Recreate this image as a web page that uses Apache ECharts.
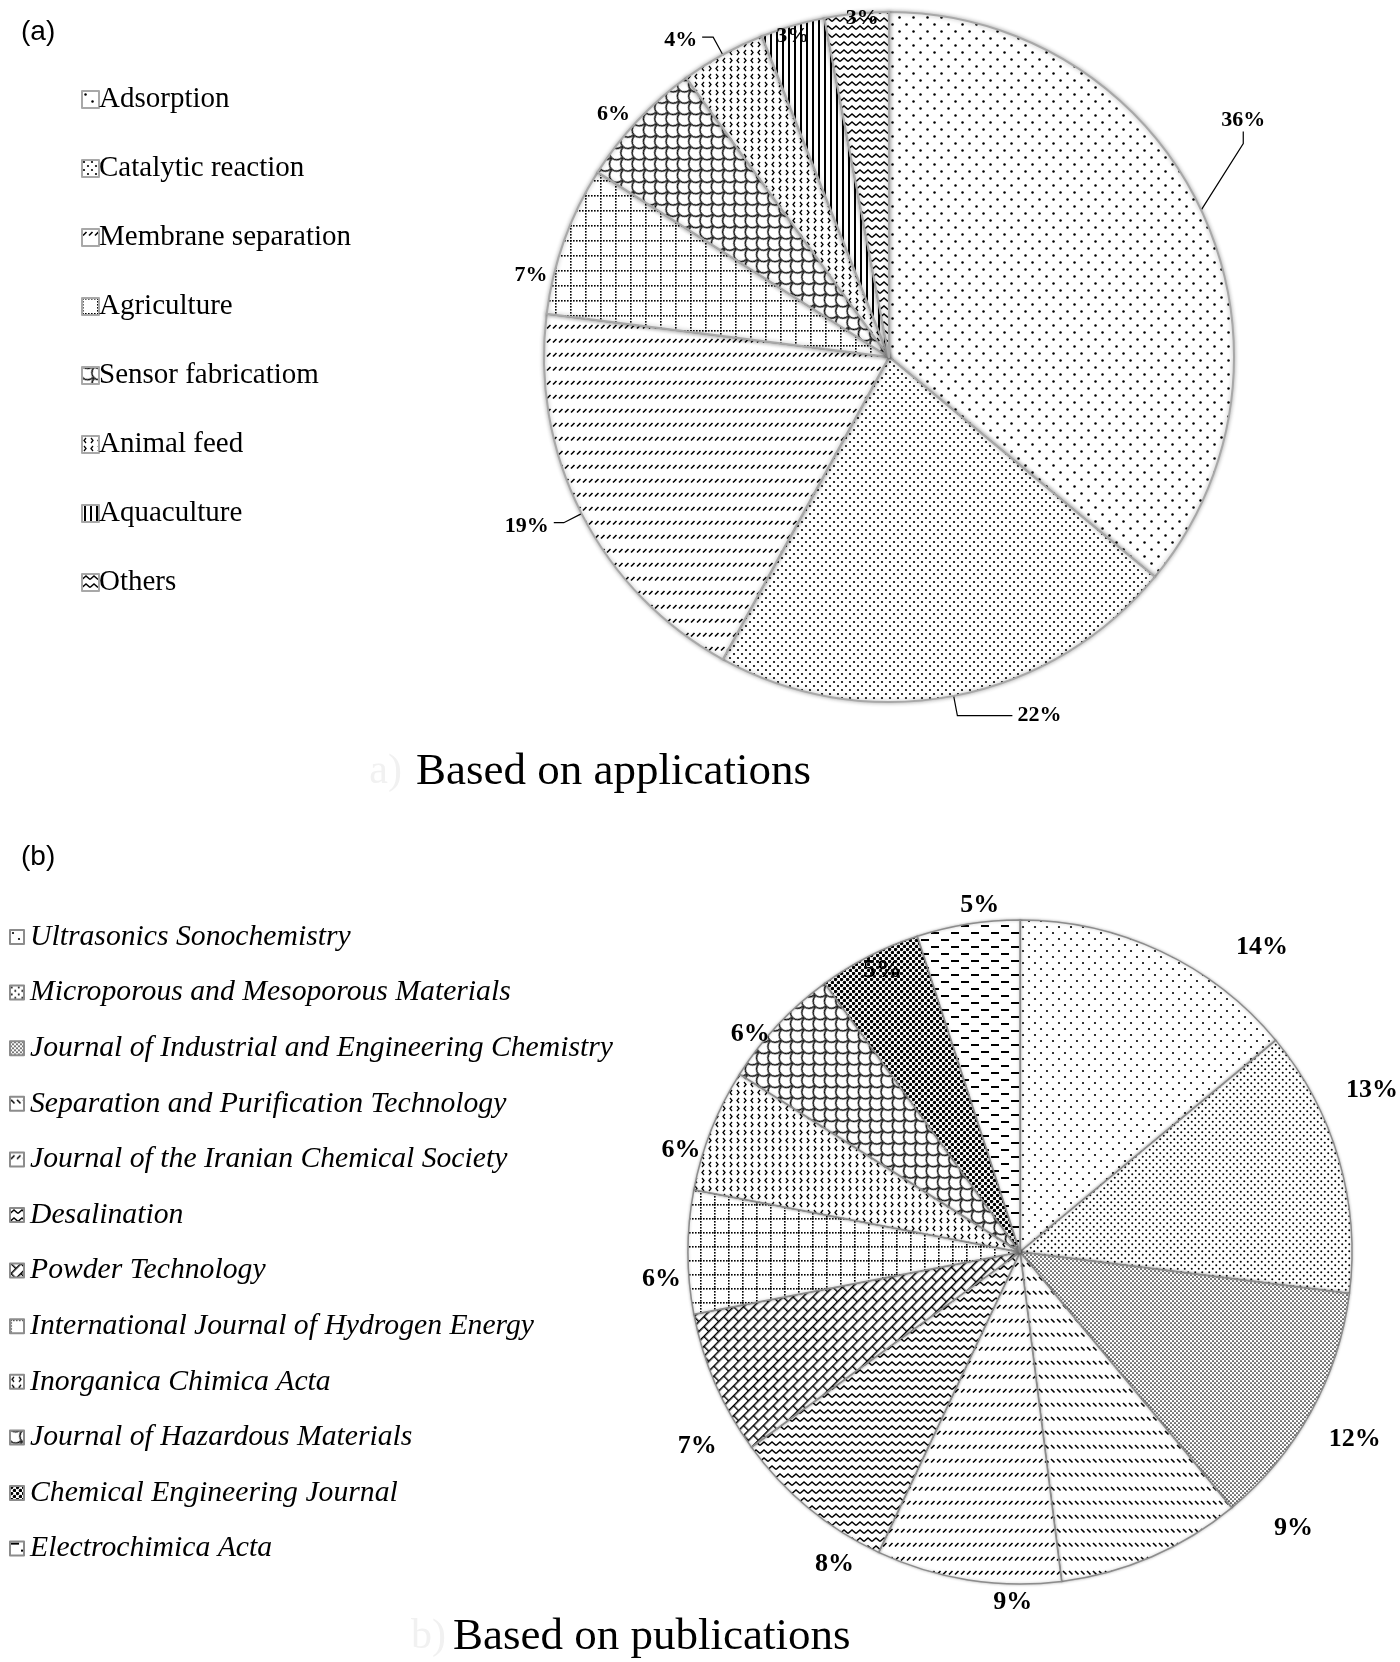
<!DOCTYPE html>
<html>
<head>
<meta charset="utf-8">
<script src="https://cdn.jsdelivr.net/npm/echarts@6/dist/echarts.min.js"></script>
<style>
html,body{margin:0;padding:0;background:#fff;}
#chart{width:1400px;height:1662px;}
</style>
</head>
<body>
<div id="chart"></div>
<script>
// ---------- data ----------
const appCategories = ['Adsorption','Catalytic reaction','Membrane separation','Agriculture','Sensor fabricatiom','Animal feed','Aquaculture','Others'];
const appValues = [36, 22, 19, 7, 6, 4, 3, 3];
const pubCategories = ['Ultrasonics Sonochemistry','Microporous and Mesoporous Materials','Journal of Industrial and Engineering Chemistry','Separation and Purification Technology','Journal of the Iranian Chemical Society','Desalination','Powder Technology','International Journal of Hydrogen Energy','Inorganica Chimica Acta','Journal of Hazardous Materials','Chemical Engineering Journal','Electrochimica Acta'];
const pubValues = [14, 13, 12, 9, 9, 8, 7, 6, 6, 6, 5, 5];

// ---------- pattern fills ----------
function tile(w, h, draw, rot) {
  const c = document.createElement('canvas');
  c.width = w; c.height = h;
  const g = c.getContext('2d');
  g.fillStyle = '#fff'; g.fillRect(0, 0, w, h);
  g.fillStyle = '#000'; g.strokeStyle = '#000';
  draw(g, w, h);
  return { image: c, repeat: 'repeat', rotation: rot || 0 };
}
function dots(t, r) {
  return tile(t, t, g => {
    [[t / 4, t / 4], [t * 3 / 4, t * 3 / 4]].forEach(p => {
      g.beginPath(); g.arc(p[0], p[1], r, 0, Math.PI * 2); g.fill();
    });
  });
}
function slashRows(dir) {
  return tile(6, 14, g => {
    g.lineWidth = 1.6; g.beginPath();
    if (dir > 0) { g.moveTo(1, 6.5); g.lineTo(4.5, 3); }
    else { g.moveTo(1, 3); g.lineTo(4.5, 6.5); }
    g.stroke();
  });
}
function dotGrid(cell) {
  return tile(cell, cell, g => {
    for (let i = 0; i < cell; i += 3) { g.fillRect(i, 0, 1.6, 1.6); g.fillRect(0, i, 1.6, 1.6); }
  });
}
function scales() {
  return tile(16, 16, g => {
    g.lineWidth = 1.5;
    [[8, 0], [0, 8], [16, 8]].forEach(p => { g.beginPath(); g.arc(p[0], p[1], 7.2, 0, Math.PI); g.stroke(); });
  }, Math.PI / 4);
}
function chevrons() {
  return tile(14, 16, g => {
    g.lineWidth = 1.3;
    const seg = pts => { g.beginPath(); g.moveTo(pts[0], pts[1]); g.lineTo(pts[2], pts[3]); g.lineTo(pts[4], pts[5]); g.stroke(); };
    seg([4, 2, 2, 4.5, 4, 7]); seg([9, 2, 11, 4.5, 9, 7]);
    seg([2, 10, 4, 12.5, 2, 15]); seg([11, 10, 9, 12.5, 11, 15]);
  });
}
function vlines() { return tile(6, 4, g => { g.fillRect(2, 0, 2, 4); }); }
function zigzag() {
  return tile(8, 8, g => {
    g.lineWidth = 1.4; g.beginPath(); g.moveTo(0, 5.5); g.lineTo(4, 2); g.lineTo(8, 5.5); g.stroke();
  });
}
function bricks() {
  return tile(14, 14, g => {
    g.lineWidth = 1.4; g.beginPath();
    g.moveTo(0, 0.7); g.lineTo(14, 0.7); g.moveTo(0, 7.7); g.lineTo(14, 7.7);
    g.moveTo(0.7, 0); g.lineTo(0.7, 7.7); g.moveTo(7.7, 7.7); g.lineTo(7.7, 14);
    g.stroke();
  }, -Math.PI / 4);
}
function darkDots() {
  return tile(6, 6, g => {
    [[1.5, 1.5], [4.5, 4.5]].forEach(p => { g.beginPath(); g.arc(p[0], p[1], 1.75, 0, Math.PI * 2); g.fill(); });
  });
}
function hdashes() {
  return tile(20, 14, g => { g.fillRect(1, 1, 8, 2); g.fillRect(11, 8, 8, 2); });
}

const appFills = [dots(14, 1.25), dots(8, 1.1), slashRows(1), dotGrid(15), scales(), chevrons(), vlines(), zigzag()];
const pubFills = [dots(12, 1.1), dots(7, 1.0), dots(4, 0.85), slashRows(-1), slashRows(1), zigzag(), bricks(), dotGrid(14), chevrons(), scales(), darkDots(), hdashes()];

// label fine placement (style only); reroute = let the library redraw the guide line to the moved label
const appLabelShift = [[-15, -81], [0, 0], [0, 4], [32, 42], [37, 7], [0, 3], [52, 30], [54, 25]];
const appReroute = [true, false, false, false, false, false, false, false];
const appLine = [
  { show: true, length: 20, length2: 12 }, { show: true, length: 20, length2: 55 }, { show: true, length: 20, length2: 10 },
  { show: false }, { show: false }, { show: true, length: 20, length2: 11 }, { show: false }, { show: false }
];
const pubLabelShift = [[54, 12], [-23, -64], [-11, 19], [102, -45], [80, 5], [70, 43], [31, 55], [24, 27], [19, 27], [18, 22], [54, 30], [47, -1]];

const serif = '"Liberation Serif","Times New Roman",serif';

const chart = echarts.init(document.getElementById('chart'), null, { renderer: 'canvas' });

const appData = appCategories.map((n, i) => ({
  name: n, value: appValues[i],
  itemStyle: { color: appFills[i] },
  labelLine: appLine[i]
}));
const pubData = pubCategories.map((n, i) => ({
  name: n, value: pubValues[i],
  itemStyle: { color: pubFills[i] }
}));

chart.setOption({
  backgroundColor: '#fff',
  animation: false,
  graphic: [
    { type: 'text', left: 21, top: 18, style: { text: '(a)', font: '28px "Liberation Sans",Arial,sans-serif', fill: '#000' } },
    { type: 'text', left: 21, top: 843, style: { text: '(b)', font: '28px "Liberation Sans",Arial,sans-serif', fill: '#000' } },
    { type: 'text', x: 402, y: 772, style: { text: 'a)', font: '42px ' + serif, fill: '#f1f1f1', textAlign: 'right', textVerticalAlign: 'middle' } },
    { type: 'text', x: 416, y: 772, style: { text: 'Based on applications', font: '45px ' + serif, fill: '#000', textAlign: 'left', textVerticalAlign: 'middle' } },
    { type: 'text', x: 446, y: 1637, style: { text: 'b)', font: '42px ' + serif, fill: '#f1f1f1', textAlign: 'right', textVerticalAlign: 'middle' } },
    { type: 'text', x: 453, y: 1637, style: { text: 'Based on publications', font: '45px ' + serif, fill: '#000', textAlign: 'left', textVerticalAlign: 'middle' } }
  ],
  legend: [
    {
      data: appCategories, orient: 'vertical', left: 76, top: 80,
      itemWidth: 17, itemHeight: 17, itemGap: 40, icon: 'rect',
      textStyle: { fontFamily: serif, fontSize: 29, color: '#000', padding: [0, 0, 0, -5] },
      selectedMode: false
    },
    {
      data: pubCategories, orient: 'vertical', left: 4, top: 917,
      itemWidth: 14, itemHeight: 14, itemGap: 25.6, icon: 'rect',
      textStyle: { fontFamily: serif, fontStyle: 'italic', fontSize: 29.7, color: '#000', padding: [0, 0, 0, 1] },
      selectedMode: false
    }
  ],
  series: [
    {
      type: 'pie', name: 'applications',
      center: [889, 357], radius: 345,
      startAngle: 90, clockwise: true,
      avoidLabelOverlap: false,
      itemStyle: { borderColor: '#a8a8a8', borderWidth: 2, shadowBlur: 4, shadowColor: 'rgba(0,0,0,0.3)' },
      label: { show: true, position: 'outside', formatter: '{c}%', fontFamily: serif, fontWeight: 'bold', fontSize: 22, color: '#000' },
      labelLine: { length: 20, length2: 25, lineStyle: { color: '#000', width: 1.2 } },
      labelLayout: p => {
        const s = appLabelShift[p.dataIndex];
        if (appReroute[p.dataIndex]) {
          const r = p.labelRect;
          return { x: r.x + s[0], y: r.y + r.height / 2 + s[1] };
        }
        return { dx: s[0], dy: s[1] };
      },
      emphasis: { disabled: true },
      data: appData
    },
    {
      type: 'pie', name: 'publications',
      center: [1020, 1252], radius: 332,
      startAngle: 90, clockwise: true,
      avoidLabelOverlap: false,
      itemStyle: { borderColor: '#8c8c8c', borderWidth: 1.5, shadowBlur: 3, shadowColor: 'rgba(0,0,0,0.25)' },
      label: { show: true, position: 'outside', formatter: '{c}%', fontFamily: serif, fontWeight: 'bold', fontSize: 26, color: '#000' },
      labelLine: { show: false, length: 18, length2: 8 },
      labelLayout: p => ({ dx: pubLabelShift[p.dataIndex][0], dy: pubLabelShift[p.dataIndex][1] }),
      emphasis: { disabled: true },
      data: pubData
    }
  ]
});
</script>
</body>
</html>
